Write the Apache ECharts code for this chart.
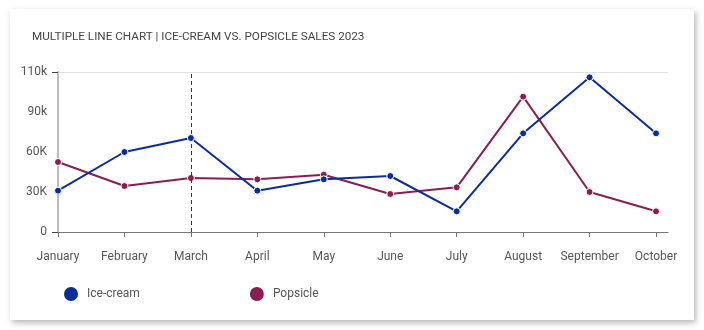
<!DOCTYPE html>
<html>
<head>
<meta charset="utf-8">
<script src="https://cdn.jsdelivr.net/npm/echarts@6/dist/echarts.min.js"></script>
<style>
  html, body { margin: 0; padding: 0; background: #ffffff; width: 704px; height: 330px; overflow: hidden; }
  #card { position: absolute; left: 10px; top: 9px; width: 684px; height: 311px; background: #fff;
          box-shadow: 2px 3px 6px rgba(0,0,0,0.28); }
  #chart { width: 684px; height: 311px; }
</style>
</head>
<body>
<div id="card"><div id="chart"></div></div>
<script>
const titleText = 'MULTIPLE LINE CHART | ICE-CREAM VS. POPSICLE SALES 2023';
const months = ['January','February','March','April','May','June','July','August','September','October'];
const iceCream = [31, 60, 70.5, 31, 39.5, 42, 15.5, 74, 116, 74];
const popsicle = [52.5, 34.5, 40.5, 39.5, 43, 28.5, 33.5, 101.5, 30, 15.5];
const yTickValues = [0, 30, 60, 90, 120];
const yTickLabels = ['0', '30K', '60K', '90k', '110k'];
const highlightMonth = 'March';

const toPairs = arr => arr.map((v, i) => [i, v]);
const font = 'Roboto, "Noto Sans", sans-serif';

const chart = echarts.init(document.getElementById('chart'), null, { renderer: 'canvas' });
chart.setOption({
  animation: false,
  title: {
    text: titleText, left: 17, top: 17,
    textStyle: { fontFamily: font, fontSize: 11.7, fontWeight: 'normal', color: '#444' }
  },
  grid: { left: 48, right: 26, top: 63, bottom: 88, containLabel: false },
  legend: {
    left: 47, top: 271, itemWidth: 22, itemHeight: 16, itemGap: 108, icon: 'circle',
    textStyle: { fontFamily: font, fontSize: 12, color: '#555' },
    data: ['Ice-cream', 'Popsicle']
  },
  xAxis: {
    type: 'value', min: 0, max: 9.18,
    axisLine: { show: true, onZero: false, lineStyle: { color: '#777', width: 1 } },
    axisTick: { show: true, length: 5, lineStyle: { color: '#777' }, customValues: months.map((m, i) => i) },
    axisLabel: {
      customValues: months.map((m, i) => i), margin: 19,
      fontFamily: font, fontSize: 12, color: '#555',
      formatter: v => months[Math.round(v)] || ''
    },
    splitLine: { show: false }
  },
  yAxis: {
    type: 'value', min: 0, max: 120, interval: 30,
    axisLine: { show: true, lineStyle: { color: '#bbb', width: 2 } },
    axisTick: { show: true, length: 6, lineStyle: { color: '#444' }, customValues: [0, 120] },
    axisLabel: {
      margin: 11, fontFamily: font, fontSize: 12, color: '#555',
      formatter: v => { const k = yTickValues.indexOf(v); return k >= 0 ? yTickLabels[k] : ''; }
    },
    splitLine: { show: true, lineStyle: { color: '#e0e0e0', width: 1 } }
  },
  series: [
    {
      name: 'Ice-cream', type: 'line', data: toPairs(iceCream),
      color: '#0b2c9c', symbol: 'circle', symbolSize: 7,
      lineStyle: { width: 2 }, itemStyle: { borderColor: '#fff', borderWidth: 1 },
      markLine: {
        silent: true, symbol: 'none', label: { show: false },
        lineStyle: { type: [4, 3], color: '#333', width: 1 },
        data: [{ xAxis: months.indexOf(highlightMonth) }]
      },
      z: 3
    },
    {
      name: 'Popsicle', type: 'line', data: toPairs(popsicle),
      color: '#8a1e4e', symbol: 'circle', symbolSize: 7,
      lineStyle: { width: 2 }, itemStyle: { borderColor: '#fff', borderWidth: 1 },
      z: 2
    }
  ]
});
</script>
</body>
</html>
